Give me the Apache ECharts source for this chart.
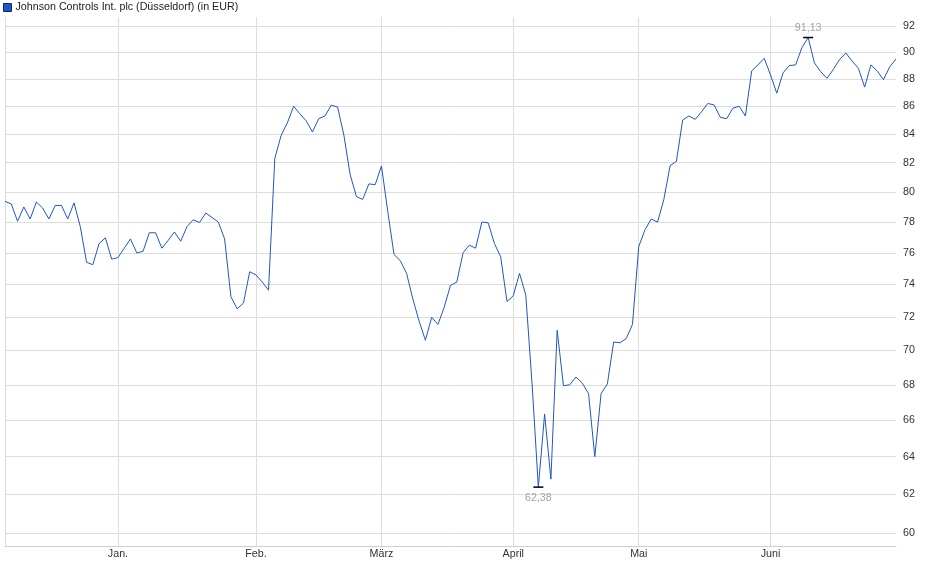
<!DOCTYPE html>
<html>
<head>
<meta charset="utf-8">
<script src="https://cdn.jsdelivr.net/npm/echarts@6/dist/echarts.min.js"></script>
<style>
  html, body { margin: 0; padding: 0; background: #fff; }
  #chart { width: 940px; height: 579px; }
</style>
</head>
<body>
<div id="chart"></div>
<script>
// Schlusskurse (Handelstage), Mitte Dez. bis Ende Juni
var seriesName = 'Johnson Controls Int. plc (Düsseldorf) (in EUR)';
var prices = [
  79.37, 79.2, 78.05, 79.0, 78.2, 79.33, 78.93, 78.2, 79.1, 79.1,
  78.2, 79.27, 77.7, 75.4, 75.25, 76.6, 76.97, 75.6, 75.7, 76.3,
  76.9, 76.0, 76.1, 77.3, 77.3, 76.3, 76.8, 77.35, 76.75, 77.7,
  78.15, 77.97, 78.6, 78.3, 78.0, 76.9, 73.25, 72.5, 72.85, 74.8,
  74.6, 74.15, 73.65, 82.3, 83.9, 84.8, 86.0, 85.45, 84.95, 84.15,
  85.1, 85.3, 86.07, 85.95, 83.95, 81.2, 79.7, 79.5, 80.55, 80.5,
  81.78, 78.7, 75.9, 75.5, 74.7, 73.1, 71.75, 70.6, 71.98, 71.55,
  72.6, 73.95, 74.15, 76.0, 76.5, 76.3, 78.0, 77.95, 76.6, 75.75,
  72.95, 73.3, 74.7, 73.35, 68.05, 62.38, 66.35, 62.8, 71.2, 67.95,
  68.0, 68.45, 68.1, 67.5, 64.0, 67.5, 68.05, 70.5, 70.45, 70.7,
  71.55, 76.4, 77.5, 78.2, 78.0, 79.5, 81.8, 82.1, 85.0, 85.3,
  85.05, 85.6, 86.2, 86.1, 85.2, 85.1, 85.85, 86.0, 85.3, 88.6,
  89.05, 89.55, 88.3, 86.95, 88.45, 89.0, 89.05, 90.35, 91.13, 89.2,
  88.55, 88.05, 88.7, 89.45, 89.95, 89.35, 88.8, 87.4, 89.05, 88.6,
  87.95, 88.9, 89.5
];
// erster Handelstag im Monat (Index) und Beschriftung
var monthStart = [18, 40, 60, 81, 101, 122];
var monthLabels = ['Jan.', 'Feb.', 'März', 'April', 'Mai', 'Juni'];
// Preisachse (logarithmisch)
var yTicks = [60, 62, 64, 66, 68, 70, 72, 74, 76, 78, 80, 82, 84, 86, 88, 90, 92];
var yMin = 59.36, yMax = 92.72;

var days = [];
for (var i = 0; i < prices.length; i++) days.push(String(i));
var logPrices = prices.map(function (v) { return Math.log(v); });
var logTicks = yTicks.map(function (v) { return Math.log(v); });

function isMonthStart(idx) { return monthStart.indexOf(idx) >= 0; }
function fmtPrice(v) { return Math.exp(v).toFixed(2).replace('.', ','); }

var chart = echarts.init(document.getElementById('chart'), null, { renderer: 'canvas' });
var option = {
  animation: false,
  textStyle: { fontFamily: '"Liberation Sans", Arial, sans-serif' },
  legend: {
    left: 3,
    top: 2,
    padding: 0,
    itemWidth: 8,
    itemHeight: 8,
    itemGap: 4,
    icon: 'rect',
    selectedMode: false,
    textStyle: { fontSize: 10.7, color: '#222', padding: [0, 0, 0, -1] },
    data: [{ name: seriesName, itemStyle: { color: '#1f56c2', borderColor: '#0c2a66', borderWidth: 1 } }]
  },
  grid: { left: 5, right: 44, top: 17, bottom: 33 },
  xAxis: {
    type: 'category',
    data: days,
    boundaryGap: false,
    axisLine: { show: true, lineStyle: { color: '#cfcfcf', width: 1 } },
    axisTick: { show: false },
    axisLabel: {
      interval: function (idx) { return isMonthStart(idx); },
      formatter: function (val, idx) { return monthLabels[monthStart.indexOf(idx)] || ''; },
      fontSize: 10.7,
      color: '#333',
      margin: 3
    },
    splitLine: {
      show: true,
      interval: function (idx) { return isMonthStart(idx) || idx === 0; },
      lineStyle: { color: '#dddddd', width: 1 }
    }
  },
  yAxis: {
    type: 'value',
    position: 'right',
    min: Math.log(yMin),
    max: Math.log(yMax),
    axisLine: { show: false },
    axisTick: { show: false, customValues: logTicks },
    axisLabel: {
      customValues: logTicks,
      formatter: function (v) { return String(Math.round(Math.exp(v))); },
      fontSize: 10.7,
      color: '#333',
      margin: 7
    },
    splitLine: { show: true, lineStyle: { color: '#dddddd', width: 1 } }
  },
  series: [
    {
      name: seriesName,
      type: 'line',
      data: logPrices,
      symbol: 'none',
      lineStyle: { color: '#1f56c2', width: 1 },
      itemStyle: { color: '#1f56c2' },
      markPoint: {
        symbol: 'rect',
        symbolSize: [10, 1.5],
        itemStyle: { color: '#000' },
        label: {
          color: '#a3a3a3',
          fontSize: 10.7,
          formatter: function (p) { return fmtPrice(p.value); }
        },
        data: [
          { type: 'max', label: { position: 'top', distance: 3 } },
          { type: 'min', label: { position: 'bottom', distance: 5 } }
        ]
      }
    }
  ]
};
chart.setOption(option);
</script>
</body>
</html>
